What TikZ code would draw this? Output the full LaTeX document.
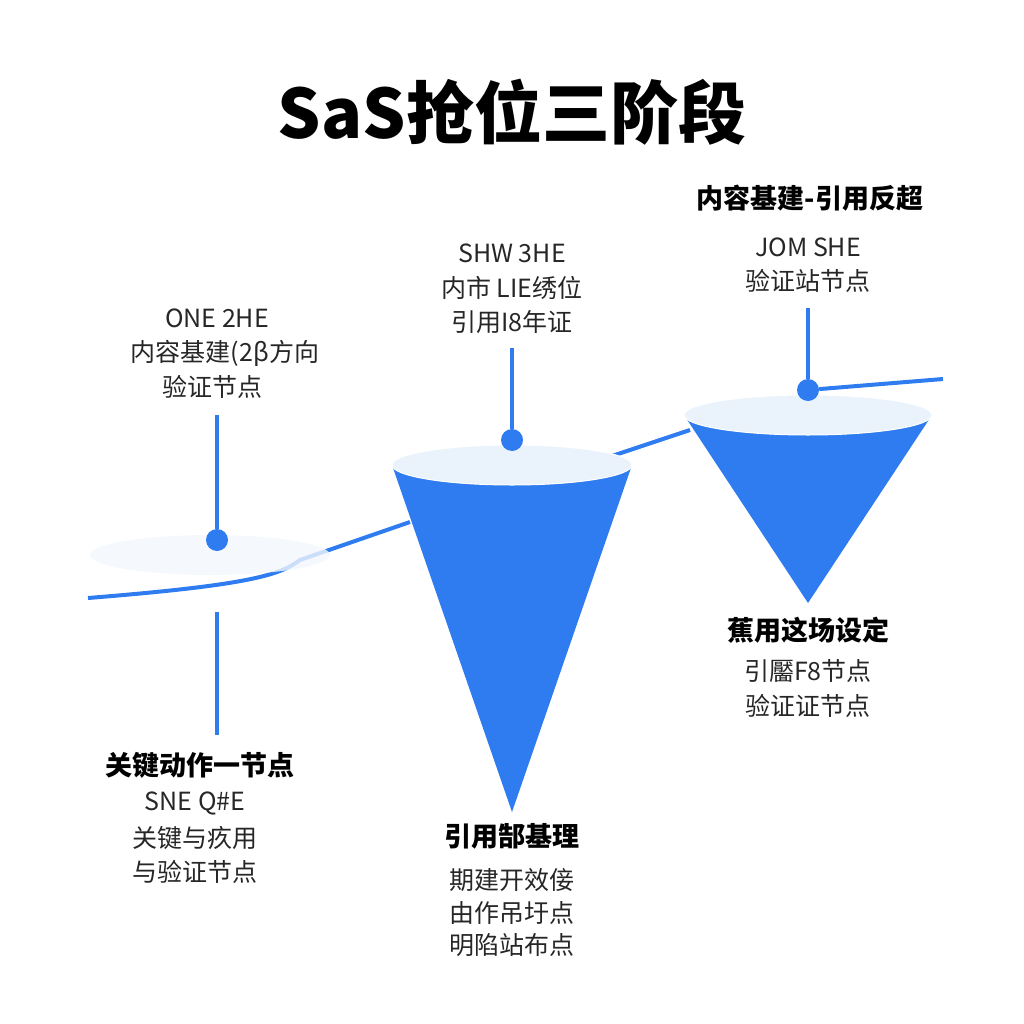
\documentclass[tikz,border=0pt]{standalone}
\usepackage{fontspec}
\setmainfont{Noto Sans CJK SC}
\usetikzlibrary{positioning}
\definecolor{coneblue}{HTML}{2F7CF0}
\definecolor{rimblue}{HTML}{EAF3FC}
\begin{document}
\begin{tikzpicture}[x=1pt,y=-1pt,
    txt/.style={font=\fontsize{25}{29}\selectfont,text=black!85},
    head/.style={font=\fontsize{27}{31}\selectfont\bfseries},
    stem/.style={coneblue,line width=3.5pt},
    dot/.style={circle,fill=coneblue,inner sep=0pt,minimum size=22pt}]
    \useasboundingbox (0,0) rectangle (1024,1024);
    \node[font=\fontsize{68}{74}\selectfont\bfseries] (title) at (512,112) {SaS抢位三阶段};

    % trend line
    \draw[coneblue,line width=4pt] (88,598) .. controls (250,585) and (280,575) .. (300,560)
        -- (410,522);
    \draw[coneblue,line width=4pt] (612,456) -- (690,430);

    % stage 1 disc
    \fill[rimblue!60,opacity=0.8] (210,555) ellipse [x radius=120,y radius=20];
    % stage 2 cone
    \fill[coneblue] (392,465) -- (512,812) -- (632,465) -- cycle;
    \fill[rimblue,draw=white,line width=1pt] (512,465) ellipse [x radius=120,y radius=20];
    % stage 3 cone
    \fill[coneblue] (684,415) -- (808,603) -- (932,415) -- cycle;
    \fill[rimblue,draw=white,line width=1pt] (808,415) ellipse [x radius=124,y radius=20];

    % markers
    \node[dot] (d1) at (217,540) {};
    \node[dot] (d2) at (512,440) {};
    \node[dot] (d3) at (808,390) {};
    \coordinate (s1) at (217,415);
    \coordinate (s1b) at (217,612);
    \coordinate (e1b) at (217,735);
    \coordinate (s2) at (512,348);
    \coordinate (s3) at (808,308);
    \coordinate (tail) at (943,379);
    \draw[coneblue,line width=4pt] (d3) -- (tail);
    \draw[stem] (s1) -- (d1);
    \draw[stem] (s1b) -- (e1b);
    \draw[stem] (s2) -- (d2);
    \draw[stem] (s3) -- (d3);

    % labels
    \node[txt] (a1) at (217,318) {ONE 2HE};
    \node[txt] (a2) at (225,353) {内容基建(2β方向};
    \node[txt] (a3) at (212,387) {验证节点};
    \node[txt] (b1) at (512,253) {SHW 3HE};
    \node[txt] (b2) at (512,288) {内市 LIE绣位};
    \node[txt] (b3) at (512,322) {引用I8年证};
    \node[head] (c0) at (810,198) {内容基建-引用反超};
    \node[txt] (c1) at (808,247) {JOM SHE};
    \node[txt] (c2) at (808,281) {验证站节点};
    \node[head] (e0) at (200,765) {关键动作一节点};
    \node[txt] (e1) at (195,803) {SNE Q\#E};
    \node[txt] (e2) at (195,838) {关键与疚用};
    \node[txt] (e3) at (195,872) {与验证节点};
    \node[head] (f0) at (512,836) {引用郜基理};
    \node[txt] (f1) at (512,880) {期建开效倿};
    \node[txt] (f2) at (512,913) {由作吊圩点};
    \node[txt] (f3) at (512,945) {明陷站布点};
    \node[head] (g0) at (808,630) {蕉用这场设定};
    \node[txt] (g1) at (808,671) {引靨F8节点};
    \node[txt] (g2) at (808,706) {验证证节点};
\end{tikzpicture}
\end{document}
